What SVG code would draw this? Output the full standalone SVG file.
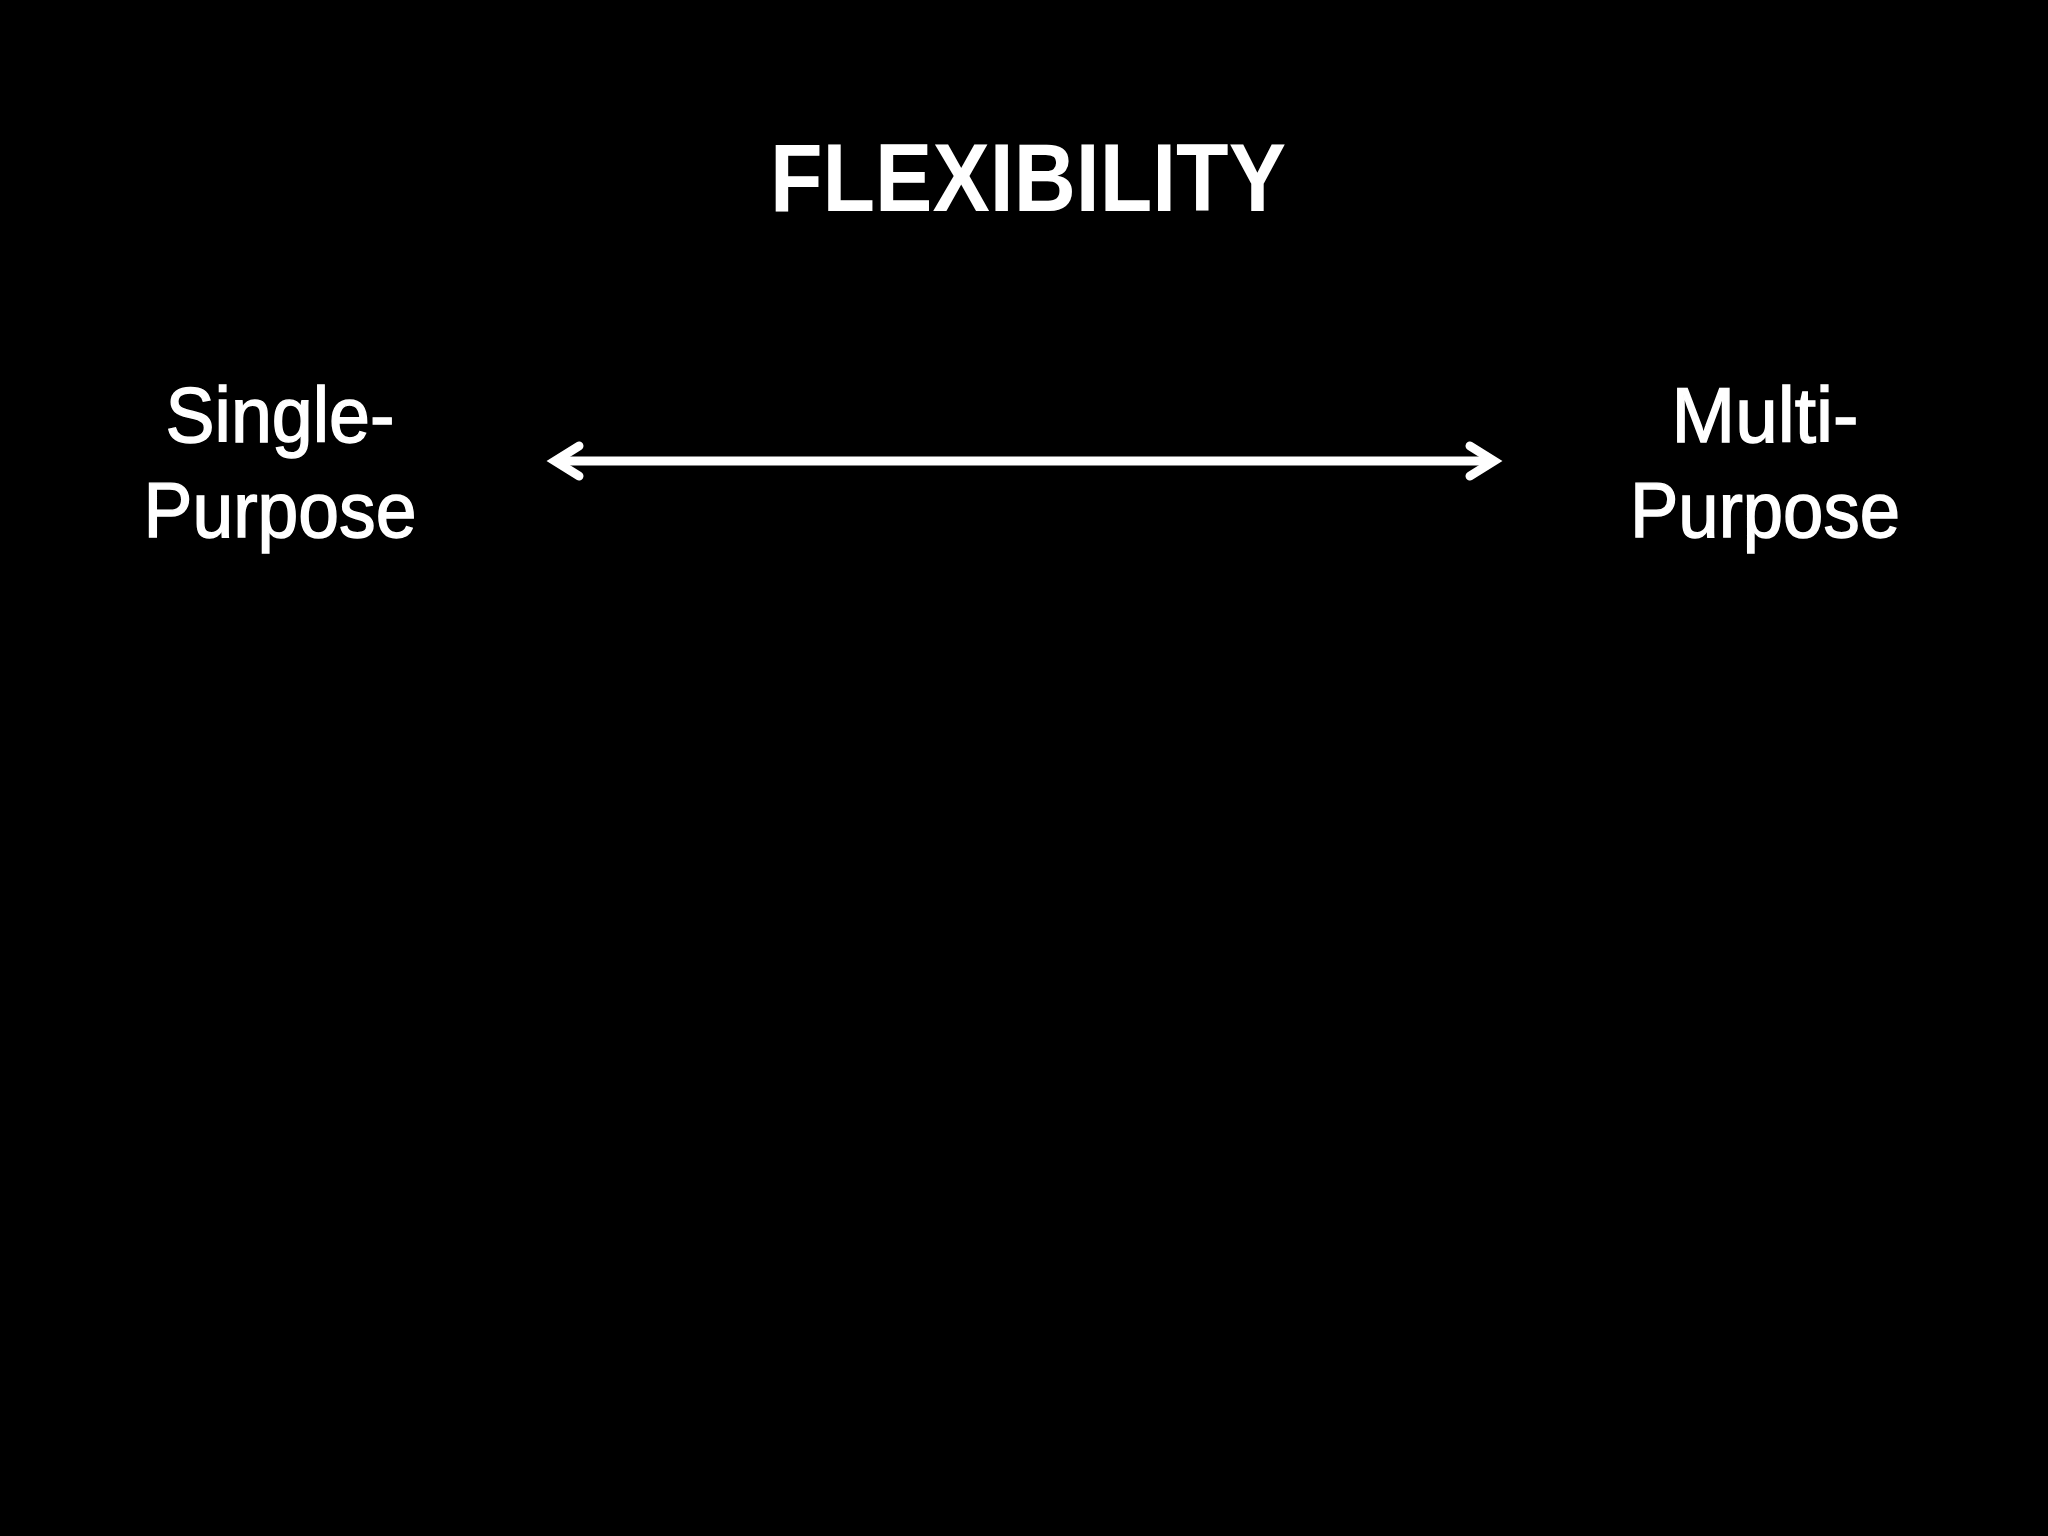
<svg xmlns="http://www.w3.org/2000/svg" width="2048" height="1536" viewBox="0 0 2048 1536">
  <style>
    .lbl { font-family: "Liberation Sans", Arial, Helvetica, sans-serif; fill: #ffffff; text-anchor: middle; }
    .title { font-size: 96px; font-weight: bold; }
    .side { font-size: 77px; stroke: #ffffff; stroke-width: 1.4; }
    .conn { stroke: #ffffff; stroke-width: 9; fill: none; }
  </style>
  <defs>
    <marker id="head" markerUnits="userSpaceOnUse" viewBox="-40 -20 50 40" markerWidth="50" markerHeight="40" refX="0" refY="0" orient="auto-start-reverse" overflow="visible">
      <path d="M -24 -15 L 0 0 L -24 15" stroke="#ffffff" stroke-width="9" fill="none" stroke-linecap="round" stroke-linejoin="miter" stroke-miterlimit="10"/>
    </marker>
  </defs>
  <rect x="0" y="0" width="2048" height="1536" fill="#000000"/>
  <g id="title">
    <text class="lbl title" x="1028" y="211" textLength="516" lengthAdjust="spacingAndGlyphs">FLEXIBILITY</text>
  </g>
  <g id="single-purpose">
    <text class="lbl side" x="280" y="442" textLength="229" lengthAdjust="spacingAndGlyphs">Single-</text>
    <text class="lbl side" x="280" y="537" textLength="273" lengthAdjust="spacingAndGlyphs">Purpose</text>
  </g>
  <g id="multi-purpose">
    <text class="lbl side" x="1765" y="442" textLength="187" lengthAdjust="spacingAndGlyphs">Multi-</text>
    <text class="lbl side" x="1765" y="537" textLength="270" lengthAdjust="spacingAndGlyphs">Purpose</text>
  </g>
  <g id="connectors">
    <line class="conn" x1="555" y1="461" x2="1494" y2="461" marker-start="url(#head)" marker-end="url(#head)"/>
  </g>
</svg>
